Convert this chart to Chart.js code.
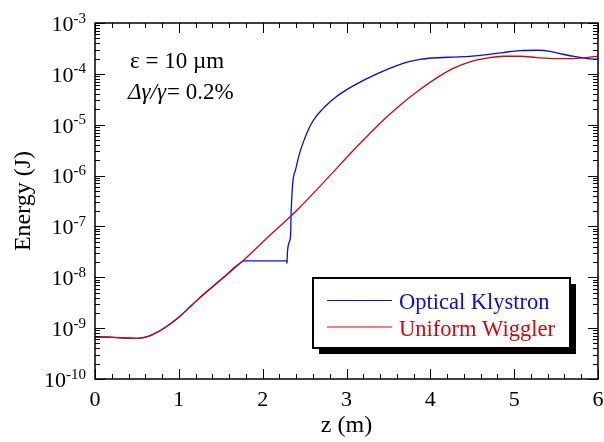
<!DOCTYPE html>
<html>
<head>
<meta charset="utf-8">
<script src="https://cdn.jsdelivr.net/npm/chart.js@4/dist/chart.umd.min.js"></script>
<style>
  html, body { margin: 0; padding: 0; background: #fff; }
  canvas { display: block; }
</style>
</head>
<body>
<canvas id="c" width="604" height="442"></canvas>
<script>
// Radiation energy along the undulator, z in metres, energy in joules
const zKlystron = [0, 0.18, 0.34, 0.5, 0.6, 0.68, 0.78, 0.9, 1.01, 1.13, 1.21, 1.29, 1.5, 1.75,
  1.775, 1.9, 2.1, 2.285, 2.29, 2.295, 2.318, 2.334, 2.338, 2.346, 2.358,
  2.398, 2.422, 2.445, 2.481, 2.529, 2.577, 2.636, 2.708, 2.779, 2.863, 2.947, 3.018, 3.102,
  3.185, 3.281, 3.376, 3.471, 3.579, 3.734, 3.877, 4.032, 4.271, 4.473, 4.676, 4.867, 5.07,
  5.273, 5.428, 5.583, 5.75, 5.87, 6.0];
const eKlystron = [6.7e-10, 6.65e-10, 6.4e-10, 6.3e-10, 6.65e-10, 7.4e-10, 9.0e-10, 1.22e-9,
  1.69e-9, 2.59e-9, 3.44e-9, 4.52e-9, 8.9e-9, 2.01e-8,
  2.1e-8, 2.1e-8, 2.1e-8, 2.1e-8, 1.88e-8, 3.0e-8, 5.0e-8, 7.3e-8, 1.56e-7, 3.3e-7, 7.0e-7,
  1.41e-6, 2.1e-6, 2.89e-6, 4.34e-6, 6.97e-6, 1.02e-5, 1.44e-5, 1.98e-5, 2.59e-5, 3.4e-5,
  4.27e-5, 5.07e-5, 6.08e-5, 7.19e-5, 8.65e-5, 1.026e-4, 1.2e-4, 1.41e-4, 1.72e-4, 1.93e-4,
  2.05e-4, 2.14e-4, 2.2e-4, 2.4e-4, 2.62e-4, 2.85e-4, 2.91e-4, 2.78e-4, 2.43e-4, 2.15e-4,
  2.0e-4, 1.94e-4];

const zWiggler = [0, 0.18, 0.34, 0.5, 0.6, 0.68, 0.78, 0.9, 1.01, 1.13, 1.21, 1.29, 1.5, 1.77,
  2.09, 2.35, 2.45, 2.863, 3.018, 3.181, 3.34, 3.499, 3.686, 3.877, 3.996, 4.115, 4.274, 4.473,
  4.672, 4.871, 5.07, 5.269, 5.467, 5.666, 5.865, 6.0];
const eWiggler = [6.7e-10, 6.65e-10, 6.4e-10, 6.3e-10, 6.65e-10, 7.4e-10, 9.0e-10, 1.22e-9,
  1.69e-9, 2.59e-9, 3.44e-9, 4.52e-9, 8.9e-9, 2.15e-8, 6.8e-8, 1.68e-7, 2.44e-7, 1.28e-6,
  2.42e-6, 4.61e-6, 8.53e-6, 1.52e-5, 2.81e-5, 4.92e-5, 6.79e-5, 9.14e-5, 1.28e-4, 1.72e-4,
  2.03e-4, 2.22e-4, 2.22e-4, 2.09e-4, 2.0e-4, 2.0e-4, 2.09e-4, 2.22e-4];

const seriesNames = ['Optical Klystron', 'Uniform Wiggler'];
const seriesColors = ['#0a0aee', '#cc0a0a'];

const xTickLabels = ['0', '1', '2', '3', '4', '5', '6'];
const yTickExponents = [-10, -9, -8, -7, -6, -5, -4, -3];

const SERIF = '"Liberation Serif", "Times New Roman", serif';

function pts(xs, ys) { return xs.map((v, i) => ({ x: v, y: ys[i] })); }

// Frame, inward ticks on all four sides, labels, annotations and a boxed legend
const decorations = {
  id: 'decorations',
  afterDatasetsDraw(chart) {
    const { ctx, chartArea: a, scales: { x, y } } = chart;
    ctx.save();
    ctx.strokeStyle = '#000';
    ctx.fillStyle = '#000';
    ctx.lineWidth = 1;

    // x ticks: majors at integers, minors every 0.2
    for (let k = 0; k <= 30; k++) {
      const v = k * 0.2;
      const px = Math.round(x.getPixelForValue(v)) + 0.5;
      const len = (k % 5 === 0) ? 10 : 5;
      ctx.beginPath();
      ctx.moveTo(px, a.bottom); ctx.lineTo(px, a.bottom - len);
      ctx.moveTo(px, a.top); ctx.lineTo(px, a.top + len);
      ctx.stroke();
    }
    // y ticks: decades and 2..9 within each decade
    for (let e = -10; e <= -3; e++) {
      for (let m = 1; m <= 9; m++) {
        if (e === -3 && m > 1) break;
        const v = m * Math.pow(10, e);
        const py = Math.round(y.getPixelForValue(v)) + 0.5;
        const len = m === 1 ? 10 : 5;
        ctx.beginPath();
        ctx.moveTo(a.left, py); ctx.lineTo(a.left + len, py);
        ctx.moveTo(a.right, py); ctx.lineTo(a.right - len, py);
        ctx.stroke();
      }
    }
    // frame
    ctx.lineWidth = 1.5;
    ctx.strokeRect(a.left, a.top, a.right - a.left, a.bottom - a.top);

    // x tick labels
    ctx.font = '22px ' + SERIF;
    ctx.textAlign = 'center';
    ctx.textBaseline = 'alphabetic';
    xTickLabels.forEach((t, i) => {
      ctx.fillText(t, x.getPixelForValue(i), a.bottom + 27);
    });

    // y tick labels as 10 with a raised exponent
    yTickExponents.forEach(e => {
      const py = y.getPixelForValue(Math.pow(10, e));
      const right = 86;
      ctx.font = '15px ' + SERIF;
      const expText = '-' + String(-e);
      const w = ctx.measureText(expText).width;
      ctx.textAlign = 'left';
      ctx.fillText(expText, right - w, py - 0.5);
      ctx.font = '22px ' + SERIF;
      ctx.textAlign = 'right';
      ctx.fillText('10', right - w, py + 7.8);
    });

    // axis titles
    ctx.font = '24px ' + SERIF;
    ctx.textAlign = 'center';
    ctx.fillText('z (m)', (a.left + a.right) / 2, 432);
    ctx.save();
    ctx.translate(30, (a.top + a.bottom) / 2);
    ctx.rotate(-Math.PI / 2);
    ctx.fillText('Energy (J)', 0, 0);
    ctx.restore();

    // parameter annotations
    ctx.textAlign = 'left';
    ctx.font = '23px ' + SERIF;
    ctx.fillText('\u03b5 = 10 \u00b5m', 130, 68);
    ctx.font = 'italic 23px ' + SERIF;
    const part = '\u0394\u03b3/\u03b3';
    ctx.fillText(part, 128, 99);
    const pw = ctx.measureText(part).width;
    ctx.font = '23px ' + SERIF;
    ctx.fillText('= 0.2%', 128 + pw + 1, 99);

    // legend box with drop shadow
    const bx = 313, by = 278, bw = 257, bh = 70;
    ctx.fillStyle = '#000';
    ctx.fillRect(bx + 6, by + 6, bw, bh);
    ctx.fillStyle = '#fff';
    ctx.fillRect(bx, by, bw, bh);
    ctx.lineWidth = 2;
    ctx.strokeStyle = '#000';
    ctx.strokeRect(bx, by, bw, bh);
    ctx.font = '22.5px ' + SERIF;
    ctx.textAlign = 'left';
    seriesNames.forEach((name, i) => {
      const ly = 300 + i * 26.5;
      ctx.strokeStyle = seriesColors[i];
      ctx.lineWidth = 1.2;
      ctx.beginPath();
      ctx.moveTo(327, ly + 0.5); ctx.lineTo(392, ly + 0.5);
      ctx.stroke();
      ctx.fillStyle = seriesColors[i];
      ctx.fillText(name, 399, ly + 9);
    });
    ctx.restore();
  }
};

new Chart(document.getElementById('c'), {
  type: 'line',
  data: {
    datasets: [
      {
        label: seriesNames[0],
        data: pts(zKlystron, eKlystron),
        borderColor: seriesColors[0],
        borderWidth: 1.3,
        pointRadius: 0,
        cubicInterpolationMode: 'monotone',
        order: 2
      },
      {
        label: seriesNames[1],
        data: pts(zWiggler, eWiggler),
        borderColor: seriesColors[1],
        borderWidth: 1.3,
        pointRadius: 0,
        cubicInterpolationMode: 'monotone',
        order: 1
      }
    ]
  },
  options: {
    responsive: false,
    animation: false,
    events: [],
    layout: { padding: { left: 95, right: 6, top: 23, bottom: 63 } },
    plugins: { legend: { display: false }, tooltip: { enabled: false } },
    scales: {
      x: { type: 'linear', min: 0, max: 6, display: false },
      y: { type: 'logarithmic', min: 1e-10, max: 1e-3, display: false }
    }
  },
  plugins: [decorations]
});
</script>
</body>
</html>
